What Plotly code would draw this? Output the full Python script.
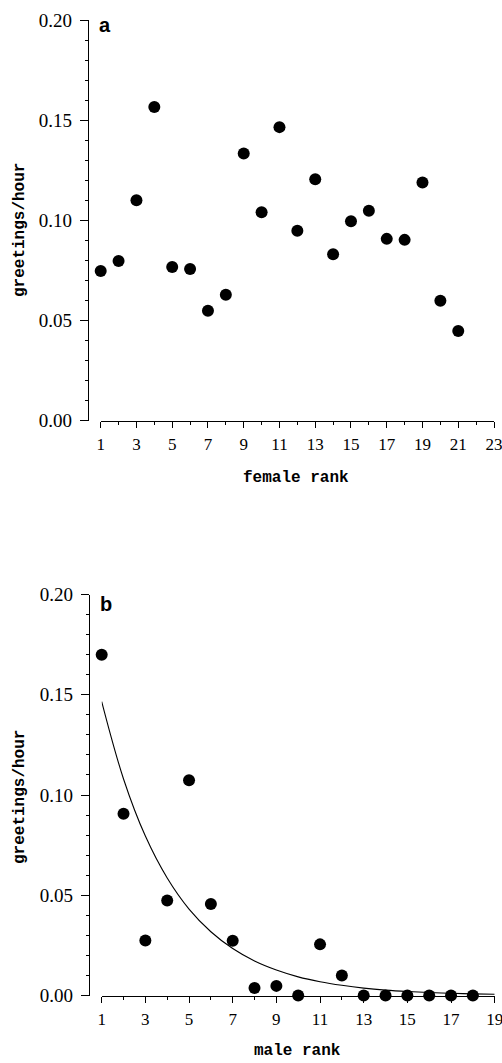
import plotly.graph_objects as go

# ---- data ----
female_rank = list(range(1, 22))
female_greet = [0.0747, 0.0797, 0.110, 0.1565, 0.0767, 0.0757, 0.0548, 0.0628,
                0.1333, 0.104, 0.1465, 0.0947, 0.1205, 0.083, 0.0995, 0.1047,
                0.0907, 0.0902, 0.1188, 0.0598, 0.0447]

male_rank = list(range(1, 19))
male_greet = [0.170, 0.0907, 0.0274, 0.0474, 0.1073, 0.0456, 0.0273, 0.0037,
              0.0048, 0.0, 0.0255, 0.010, 0.0, 0.0, 0.0, 0.0, 0.0, 0.0]

fit_rank = list(range(1, 20))
fit_greet = [0.1466, 0.108, 0.0795, 0.0586, 0.0431, 0.0318, 0.0234, 0.0172,
             0.0127, 0.0093, 0.0069, 0.0051, 0.0037, 0.0027, 0.0020, 0.0015,
             0.0011, 0.0008, 0.0006]

female_ticks = list(range(1, 24, 2))
male_ticks = list(range(1, 20, 2))
y_ticks = [0.0, 0.05, 0.10, 0.15, 0.20]

W, H = 502, 1063
SERIF = "Liberation Serif, Times New Roman, serif"
MONO = "Liberation Mono, Courier New, monospace"
SANS = "Liberation Sans, Arial, sans-serif"

fig = go.Figure()
fig.add_trace(go.Scatter(x=female_rank, y=female_greet, mode="markers",
                         marker=dict(color="black", size=12),
                         cliponaxis=False, xaxis="x", yaxis="y",
                         showlegend=False))
fig.add_trace(go.Scatter(x=fit_rank, y=fit_greet, mode="lines",
                         line=dict(color="black", width=1.1, shape="spline"),
                         cliponaxis=False, xaxis="x2", yaxis="y2",
                         showlegend=False))
fig.add_trace(go.Scatter(x=male_rank, y=male_greet, mode="markers",
                         marker=dict(color="black", size=12),
                         cliponaxis=False, xaxis="x2", yaxis="y2",
                         showlegend=False))


def xax(dom, rng, ticks):
    return dict(domain=dom, range=rng, showline=True, linecolor="black",
                linewidth=1.3, ticks="outside", tickvals=ticks, ticklen=6,
                tickwidth=1.2, tickcolor="black", showgrid=False,
                zeroline=False, ticklabelstandoff=2, automargin=False,
                ticklabeloverflow="allow",
                tickfont=dict(family=SERIF, size=17, color="black"),
                minor=dict(dtick=1, tick0=0, ticks="outside", ticklen=3,
                           tickwidth=1, tickcolor="black", showgrid=False))


def yax(dom, pos):
    return dict(domain=dom, range=[0, 0.2], anchor="free", position=pos,
                showline=True, linecolor="black", linewidth=1.3,
                ticks="outside", tickvals=y_ticks, tickformat=".2f",
                ticklen=8, tickwidth=1.2, tickcolor="black", showgrid=False,
                zeroline=False, ticklabelstandoff=4, automargin=False,
                ticklabeloverflow="allow",
                tickfont=dict(family=SERIF, size=19, color="black"),
                minor=dict(dtick=0.01, tick0=0, ticks="outside", ticklen=3,
                           tickwidth=1, tickcolor="black", showgrid=False))


fig.update_layout(
    width=W, height=H, margin=dict(l=0, r=0, t=0, b=0, autoexpand=False),
    template="none",
    plot_bgcolor="white", paper_bgcolor="white",
    xaxis=dict(xax([100.7 / W, 494.0 / W], [1, 23.0001], female_ticks), anchor="y"),
    yaxis=yax([1 - 420.5 / H, 1 - 20.0 / H], 88.0 / W),
    xaxis2=dict(xax([101.7 / W, 494.7 / W], [1, 19.0001], male_ticks), anchor="y2"),
    yaxis2=yax([1 - 995.5 / H, 1 - 594.5 / H], 89.0 / W),
)

ann = [
    dict(text="<b>a</b>", x=97 / W, y=1 - 25 / H, xanchor="left", yanchor="middle",
         font=dict(family=SANS, size=20, color="black")),
    dict(text="<b>b</b>", x=98 / W, y=1 - 604 / H, xanchor="left", yanchor="middle",
         font=dict(family=SANS, size=20, color="black")),
    dict(text="greetings/hour", x=20 / W, y=1 - 230 / H, textangle=-90,
         xanchor="center", yanchor="middle",
         font=dict(family=MONO, size=16, color="black", weight="bold")),
    dict(text="greetings/hour", x=20 / W, y=1 - 797 / H, textangle=-90,
         xanchor="center", yanchor="middle",
         font=dict(family=MONO, size=16, color="black", weight="bold")),
    dict(text="female rank", x=296 / W, y=1 - 478 / H, xanchor="center",
         yanchor="middle", font=dict(family=MONO, size=16, color="black", weight="bold")),
    dict(text="male rank", x=297 / W, y=1 - 1051 / H, xanchor="center",
         yanchor="middle", borderpad=0,
         font=dict(family=MONO, size=16, color="black", weight="bold")),
]
for a in ann:
    a.update(xref="paper", yref="paper", showarrow=False)
fig.update_layout(annotations=ann)

fig.write_html(
    "out.html",
    config={"displayModeBar": False},
    post_script="document.body.style.margin='0';document.body.style.overflow='hidden';",
)
